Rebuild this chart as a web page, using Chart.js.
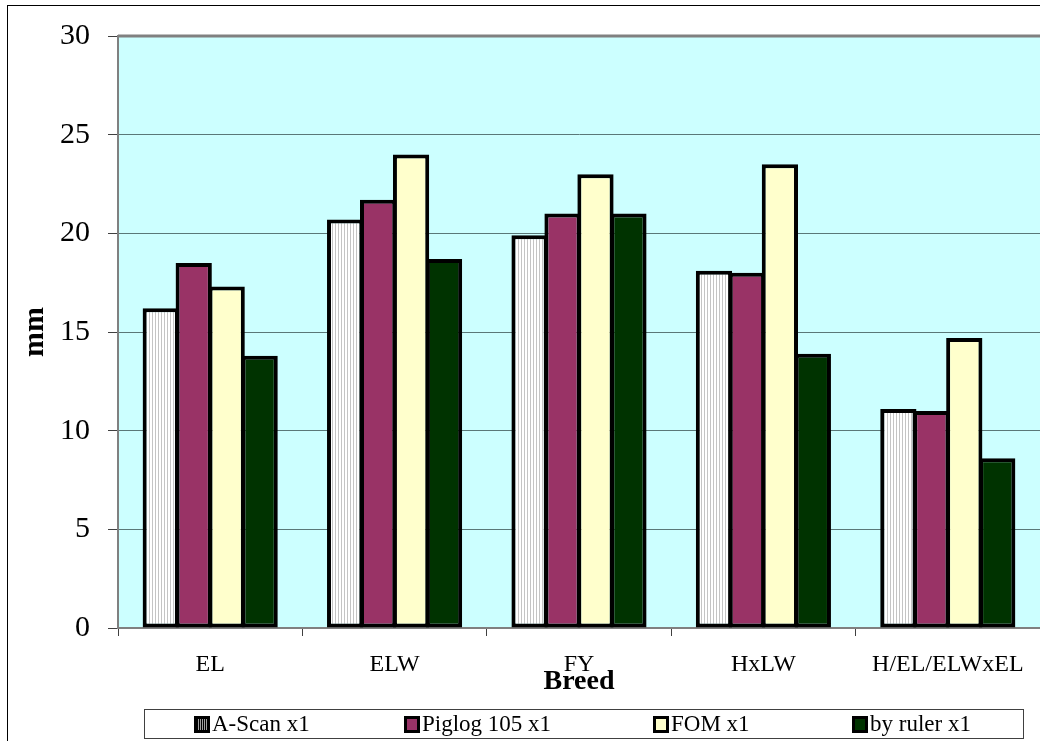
<!DOCTYPE html>
<html>
<head>
<meta charset="utf-8">
<script src="https://cdn.jsdelivr.net/npm/chart.js@4.4.0/dist/chart.umd.min.js"></script>
<style>
  html, body { margin: 0; padding: 0; background: #fff; }
  #wrap { width: 1040px; height: 741px; }
</style>
</head>
<body>
<div id="wrap"><canvas id="breedChart" width="1040" height="741"></canvas></div>
<script>
const categories = ['EL', 'ELW', 'FY', 'HxLW', 'H/EL/ELWxEL'];
const aScan = [16.2, 20.7, 19.9, 18.1, 11.1];
const piglog = [18.5, 21.7, 21.0, 18.0, 11.0];
const fom = [17.3, 24.0, 23.0, 23.5, 14.7];
const byRuler = [13.8, 18.7, 21.0, 13.9, 8.6];
const seriesNames = ['A-Scan x1', 'Piglog 105 x1', 'FOM x1', 'by ruler x1'];

const serif = "'Liberation Serif', serif";
const canvas = document.getElementById('breedChart');
const ctx = canvas.getContext('2d');

// white with thin grey vertical lines, like the Excel fill
const tile = document.createElement('canvas');
tile.width = 3; tile.height = 4;
const tctx = tile.getContext('2d');
tctx.fillStyle = '#ffffff';
tctx.fillRect(0, 0, 3, 4);
tctx.fillStyle = '#c4c4c4';
tctx.fillRect(2, 0, 1, 4);
const stripes = ctx.createPattern(tile, 'repeat');

const fills = [stripes, '#993366', '#ffffcc', '#003300'];
const legendX = [194, 404, 653, 852];

const framePlugin = {
    id: 'frame',
    beforeDraw(chart) {
        const { ctx, chartArea: a } = chart;
        ctx.save();
        ctx.fillStyle = '#ffffff';
        ctx.fillRect(0, 0, chart.width, chart.height);
        ctx.fillStyle = '#ccffff';
        ctx.fillRect(a.left, a.top, a.right - a.left, a.bottom - a.top);
        ctx.restore();
    },
    afterDraw(chart) {
        const { ctx, chartArea: a } = chart;
        ctx.save();
        // plot area top edge
        ctx.strokeStyle = '#808080';
        ctx.lineWidth = 3;
        ctx.beginPath();
        ctx.moveTo(a.left, a.top);
        ctx.lineTo(a.right, a.top);
        ctx.stroke();
        // outer chart border
        ctx.strokeStyle = '#000000';
        ctx.lineWidth = 1;
        ctx.strokeRect(7.5, 5.5, 1060, 760);
        // legend
        ctx.strokeStyle = '#404040';
        ctx.fillStyle = '#ffffff';
        ctx.fillRect(144, 709, 880, 30);
        ctx.strokeRect(144.5, 709.5, 879, 29);
        ctx.font = "23px 'Liberation Serif'";
        ctx.textBaseline = 'middle';
        seriesNames.forEach((name, i) => {
            const x = legendX[i];
            ctx.fillStyle = '#000000';
            ctx.fillRect(x, 716, 16, 17);
            if (i === 0) {
                ctx.fillStyle = '#a0a0a0';
                for (let k = x + 4; k < x + 13; k += 2) ctx.fillRect(k, 719, 1, 11);
            } else {
                ctx.fillStyle = fills[i];
                ctx.fillRect(x + 3, 719, 10, 11);
            }
            ctx.fillStyle = '#000000';
            ctx.fillText(name, x + 18, 725);
        });
        ctx.restore();
    }
};

const seriesData = [aScan, piglog, fom, byRuler];

new Chart(ctx, {
    type: 'bar',
    data: {
        labels: categories,
        datasets: seriesNames.map((name, i) => ({
            label: name,
            data: seriesData[i],
            backgroundColor: fills[i],
            borderColor: '#000000',
            borderWidth: 4,
            borderSkipped: false,
            categoryPercentage: 0.715,
            barPercentage: 1.1
        }))
    },
    options: {
        responsive: false,
        animation: false,
        devicePixelRatio: 1,
        layout: { padding: { top: 32, left: 0, right: 0, bottom: 0 } },
        scales: {
            x: {
                afterFit(scale) { scale.height = 113; },
                grid: {
                    drawOnChartArea: false,
                    tickLength: 8,
                    tickColor: '#404040'
                },
                border: { color: '#808080', width: 2 },
                ticks: {
                    color: '#000000',
                    padding: 14,
                    font: { family: serif, size: 24 }
                },
                title: {
                    display: true,
                    text: 'Breed',
                    color: '#000000',
                    font: { family: serif, size: 28, weight: 'bold' },
                    padding: { top: 0, bottom: 42 }
                }
            },
            y: {
                min: 0,
                max: 30,
                afterFit(scale) { scale.width = 118; },
                grid: {
                    color: '#5a7878',
                    lineWidth: 1,
                    tickLength: 10,
                    tickColor: '#404040'
                },
                border: { color: '#808080', width: 2 },
                ticks: {
                    stepSize: 5,
                    color: '#000000',
                    padding: 18,
                    font: { family: serif, size: 30 }
                },
                title: {
                    display: true,
                    text: 'mm',
                    color: '#000000',
                    font: { family: serif, size: 30, weight: 'bold' },
                    padding: { top: 17, bottom: 0 }
                }
            }
        },
        plugins: {
            legend: { display: false },
            tooltip: { enabled: false }
        }
    },
    plugins: [framePlugin]
});
</script>
</body>
</html>
